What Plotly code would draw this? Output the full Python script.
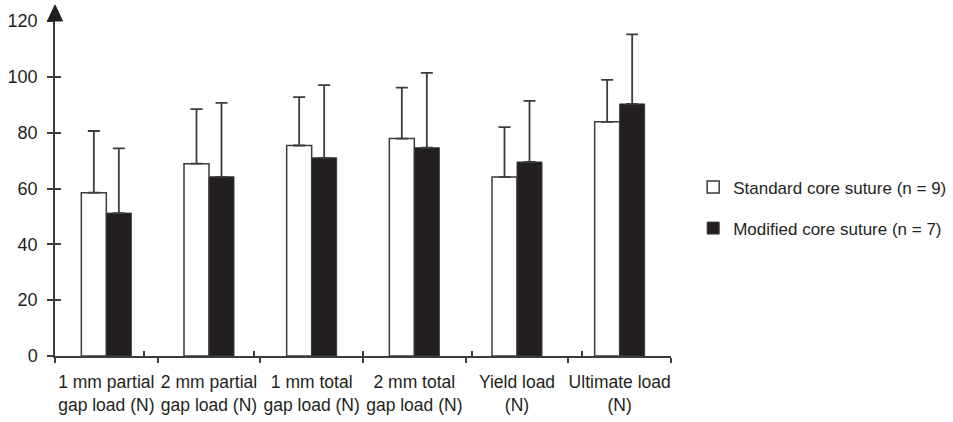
import plotly.graph_objects as go

# Gap and failure loads, mean with upward SD, per repair technique
categories = [
    "1 mm partial<br>gap load (N)",
    "2 mm partial<br>gap load (N)",
    "1 mm total<br>gap load (N)",
    "2 mm total<br>gap load (N)",
    "Yield load<br>(N)",
    "Ultimate load<br>(N)",
]
standard_mean = [58.5, 68.9, 75.4, 77.9, 64.1, 83.9]
standard_sd = [22.1, 19.5, 17.3, 18.2, 17.9, 15.0]
modified_mean = [51.2, 64.2, 71.0, 74.6, 69.5, 90.3]
modified_sd = [23.2, 26.5, 26.0, 26.8, 21.9, 24.9]
y_ticks = [0, 20, 40, 60, 80, 100, 120]

FONT = "Liberation Sans, Arial, sans-serif"
INK = "#231f20"
LINE = "#3c3c3c"

fig = go.Figure()

fig.add_trace(go.Bar(
    x=categories, y=standard_mean, name="Standard core suture (n = 9)",
    marker=dict(color="white", line=dict(color=LINE, width=1.5)),
    error_y=dict(type="data", array=standard_sd, symmetric=False,
                 arrayminus=[0] * len(standard_sd),
                 color=LINE, thickness=1.8, width=6),
    legendgroup="a",
))
fig.add_trace(go.Bar(
    x=categories, y=modified_mean, name="Modified core suture (n = 7)",
    marker=dict(color=INK, line=dict(color=LINE, width=1)),
    error_y=dict(type="data", array=modified_sd, symmetric=False,
                 arrayminus=[0] * len(modified_sd),
                 color=LINE, thickness=1.8, width=6),
    legendgroup="b",
))

# helper trace that carries the inner half of the crossing tick marks
fig.add_trace(go.Scatter(
    x=categories, y=[None] * len(categories), xaxis="x2", yaxis="y2",
    mode="markers", showlegend=False, hoverinfo="skip",
))

fig.update_layout(
    width=953, height=422,
    margin=dict(l=55, r=282, t=21, b=66, autoexpand=False),
    paper_bgcolor="white", plot_bgcolor="white",
    font=dict(family=FONT, size=17, color=INK),
    barmode="group", bargap=0.513, bargroupgap=0,
    showlegend=True,
    legend=dict(
        x=1.036, xanchor="left", y=0.442, yanchor="middle",
        font=dict(family=FONT, size=17, color=INK),
        traceorder="grouped", tracegroupgap=16,
        bgcolor="rgba(0,0,0,0)",
    ),
    xaxis=dict(
        categoryorder="array", categoryarray=categories,
        showline=True, linecolor=LINE, linewidth=1.5,
        ticks="outside", ticklen=5, tickwidth=1.5, tickcolor=LINE,
        tickson="boundaries", showgrid=False, zeroline=False,
        tickangle=0, automargin=False, ticklabelstandoff=9,
        tickfont=dict(family=FONT, size=17.5, color=INK),
    ),
    xaxis2=dict(
        overlaying="x", categoryorder="array", categoryarray=categories,
        ticks="inside", ticklen=5, tickwidth=1.5, tickcolor=LINE,
        tickson="boundaries", showticklabels=False, showline=False,
        showgrid=False, zeroline=False,
    ),
    yaxis=dict(
        range=[0, 120], tickvals=y_ticks,
        showline=True, linecolor=LINE, linewidth=1.5,
        ticks="outside", ticklen=6, tickwidth=1.5, tickcolor=LINE,
        showgrid=False, zeroline=False, ticklabelstandoff=6,
        automargin=False,
        tickfont=dict(family=FONT, size=18, color=INK),
    ),
    yaxis2=dict(
        overlaying="y", range=[0, 120], tickvals=y_ticks,
        ticks="inside", ticklen=6, tickwidth=1.5, tickcolor=LINE,
        showticklabels=False, showline=False, showgrid=False, zeroline=False,
    ),
    shapes=[dict(
        type="path", xref="paper", yref="paper",
        xsizemode="pixel", ysizemode="pixel", xanchor=0, yanchor=1,
        path="M -7.5,0 L 7.5,0 L 0,16 Z",
        fillcolor=INK, line=dict(color=INK, width=1),
    )],
)

fig.write_html("out.html")
